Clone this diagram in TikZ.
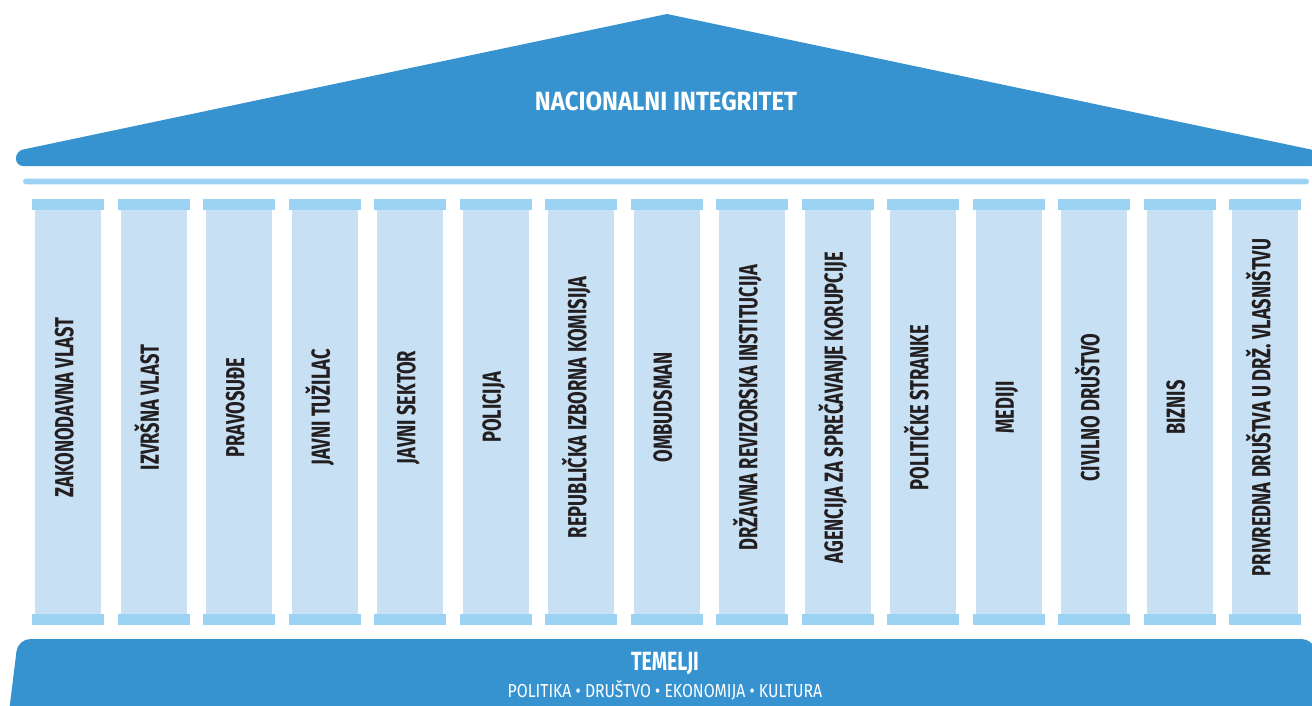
\documentclass[tikz,border=0pt]{standalone}
\usepackage{fontspec}
\usepackage{tikz}
\newfontfamily\pillarfont{Fira Sans}[FakeStretch=0.7]
\newfontfamily\rooffont{Fira Sans}[FakeStretch=0.91]
\newfontfamily\basefont{Fira Sans}[FakeStretch=0.74]
\newfontfamily\subfont{Fira Sans}[FakeStretch=0.84]

\definecolor{roofblue}{HTML}{3793D0}
\definecolor{capblue}{HTML}{9CD2F2}
\definecolor{shaftblue}{HTML}{C8E0F4}
\definecolor{inkgray}{HTML}{231F20}

\begin{document}
\begin{tikzpicture}[x=0.02cm,y=-0.02cm,
    capital/.style={fill=capblue},
    shaft/.style={fill=shaftblue},
    pillartext/.style={rotate=90,text=inkgray,inner sep=0,text height=1.4ex,text depth=0pt,
      font=\pillarfont\fontsize{14.9}{16}\selectfont\bfseries},
    title/.style={text=white,inner sep=0,font=\rooffont\fontsize{15}{16}\selectfont\bfseries}]
  \useasboundingbox (0,0) rectangle (1312,706);
  \clip (0,0) rectangle (1312,706);
  % roof
  \fill[roofblue] (667,14) [rounded corners=4pt] -- (16,151) -- (16,166) -- (1318,166) -- (1318,151) [sharp corners] -- cycle;
  \node[title] (roof) at (666,101) {NACIONALNI INTEGRITET};
  % beam
  \fill[capblue,rounded corners=1.6pt] (23,178.7) rectangle (1309,184.3);
  % pillars
  \foreach \lbl [count=\i from 0] in {ZAKONODAVNA VLAST,IZVRŠNA VLAST,PRAVOSUĐE,JAVNI TUŽILAC,JAVNI SEKTOR,
      POLICIJA,REPUBLIČKA IZBORNA KOMISIJA,OMBUDSMAN,DRŽAVNA REVIZORSKA INSTITUCIJA,
      AGENCIJA ZA SPREČAVANJE KORUPCIJE,POLITIČKE STRANKE,MEDIJI,CIVILNO DRUŠTVO,BIZNIS,
      PRIVREDNA DRUŠTVA U DRŽ. VLASNIŠTVU}{
    \pgfmathsetmacro{\xl}{32+85.5*\i}
    \fill[capital] (\xl,199) rectangle ++(72,11);
    \fill[shaft] (\xl+3,210) rectangle ++(66,404);
    \fill[capital] (\xl,614) rectangle ++(72,11);
    \node[pillartext] (col\i) at (\xl+36,407.5) {\lbl};
  }
  % foundation
  \fill[roofblue,rounded corners=7pt] (8,720) -- (18,639) -- (1314,639) -- (1324,720) -- cycle;
  \node[title,font=\basefont\fontsize{15}{16}\selectfont\bfseries] (base) at (665,664) {TEMELJI};
  \node[title,font=\subfont\fontsize{10.7}{12}\selectfont] (pillars) at (665,690) {POLITIKA • DRUŠTVO • EKONOMIJA • KULTURA};
\end{tikzpicture}
\end{document}
